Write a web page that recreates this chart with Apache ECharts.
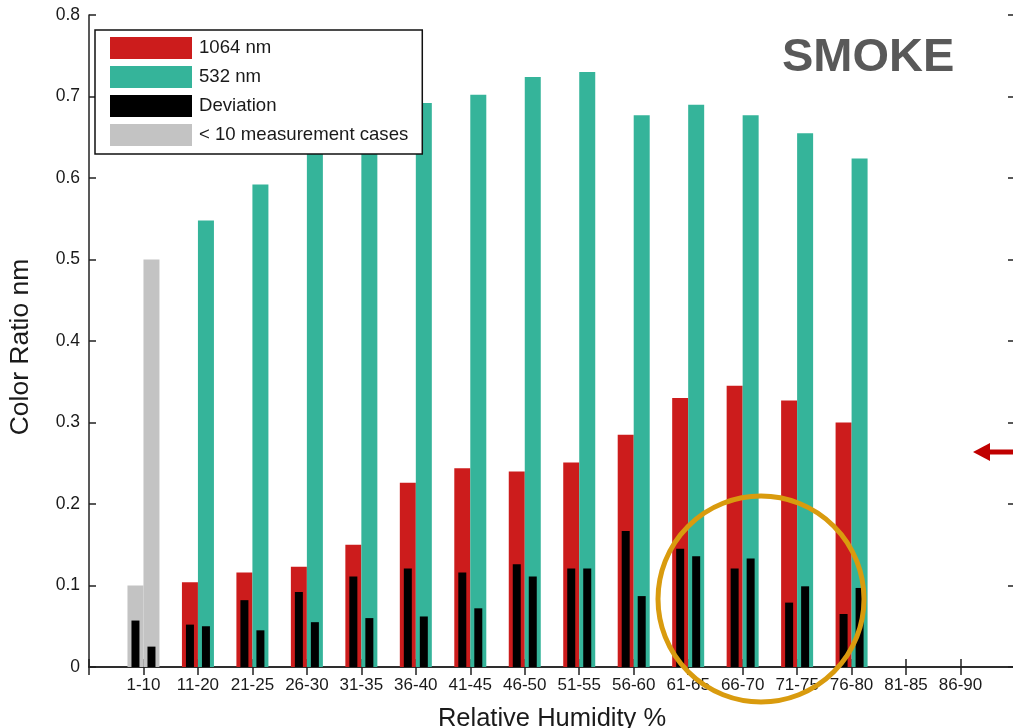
<!DOCTYPE html>
<html>
<head>
<meta charset="utf-8">
<script src="https://cdn.jsdelivr.net/npm/echarts@6.0.0/dist/echarts.min.js"></script>
<style>
  html, body { margin: 0; padding: 0; overflow: hidden; background: #fff; }
  #chart { width: 1016px; height: 728px; }
</style>
</head>
<body>
<div id="chart"></div>
<script>
// relative humidity bins
const rh = ['1-10', '11-20', '21-25', '26-30', '31-35', '36-40', '41-45', '46-50',
  '51-55', '56-60', '61-65', '66-70', '71-75', '76-80', '81-85', '86-90']

// colour ratio per bin (first bin has < 10 cases, drawn grey)
const ratio1064 = [null, 0.104, 0.116, 0.123, 0.150, 0.226, 0.244, 0.240, 0.251, 0.285, 0.330, 0.345, 0.327, 0.300, null, null]
const ratio532 = [null, 0.548, 0.592, 0.655, 0.675, 0.692, 0.702, 0.724, 0.730, 0.677, 0.690, 0.677, 0.655, 0.624, null, null]
const fewCases1064 = [0.10]
const fewCases532 = [0.50]

// deviation bars
const dev1064 = [0.057, 0.052, 0.082, 0.092, 0.111, 0.121, 0.116, 0.126, 0.121, 0.167, 0.145, 0.121, 0.079, 0.065, null, null]
const dev532 = [0.025, 0.050, 0.045, 0.055, 0.060, 0.062, 0.072, 0.111, 0.121, 0.087, 0.136, 0.133, 0.099, 0.097, null, null]

const yTicks = [0, 0.1, 0.2, 0.3, 0.4, 0.5, 0.6, 0.7, 0.8]

const RED = '#CC1C1C'
const TEAL = '#35B49A'
const GREY = '#C3C3C3'
const FONT = "'Liberation Sans', Arial, sans-serif"

// an empty slot at each end so the bins sit one step in from the frame
const cats = ['', ...rh, ' ']
const pad = arr => [null, ...arr]

const chart = echarts.init(document.getElementById('chart'))

const frameLine = { show: true, lineStyle: { color: '#222', width: 1.5 } }
const hiddenX = { type: 'category', data: cats, boundaryGap: false, show: false }

chart.setOption({
  animation: false,
  grid: { left: 89, right: 1, top: 15, bottom: 61, outerBoundsMode: 'none' },
  legend: {
    data: ['1064 nm', '532 nm', 'Deviation', '< 10 measurement cases'],
    orient: 'vertical',
    left: 95,
    top: 30,
    padding: [7, 14, 8, 15],
    itemWidth: 82,
    itemHeight: 22,
    itemGap: 7,
    icon: 'rect',
    backgroundColor: '#fff',
    borderColor: '#111',
    borderWidth: 1.5,
    textStyle: { fontSize: 18.6, color: '#1a1a1a', fontFamily: FONT, padding: [0, 0, 0, 2] }
  },
  xAxis: [
    {
      type: 'category',
      data: cats,
      boundaryGap: false,
      name: 'Relative Humidity %',
      nameLocation: 'middle',
      nameGap: 39,
      nameTextStyle: { fontSize: 25.5, color: '#1a1a1a', fontFamily: FONT },
      axisLine: frameLine,
      axisTick: { inside: true, length: 8, interval: 0, lineStyle: { color: '#222', width: 1.5 } },
      axisLabel: { interval: 0, fontSize: 17, color: '#1a1a1a', fontFamily: FONT, margin: 10 },
      splitLine: { show: false }
    },
    {
      type: 'category',
      data: cats,
      boundaryGap: false,
      position: 'top',
      axisLine: frameLine,
      axisTick: { inside: true, length: 8, interval: 0, lineStyle: { color: '#222', width: 1.5 } },
      axisLabel: { show: false },
      splitLine: { show: false }
    },
    hiddenX,
    hiddenX
  ],
  yAxis: [
    {
      type: 'value',
      min: yTicks[0],
      max: yTicks[yTicks.length - 1],
      interval: 0.1,
      name: 'Color Ratio nm',
      nameLocation: 'middle',
      nameRotate: 90,
      nameGap: 55,
      nameTextStyle: { fontSize: 26.5, color: '#1a1a1a', fontFamily: FONT, padding: [0, 12, 0, 0] },
      axisLine: frameLine,
      axisTick: { show: true, inside: true, length: 7, lineStyle: { color: '#222', width: 1.5 } },
      axisLabel: {
        fontSize: 17.5, color: '#1a1a1a', fontFamily: FONT, margin: 9,
        formatter: v => (v === 0 ? '0' : v.toFixed(1))
      },
      splitLine: { show: false }
    },
    {
      type: 'value',
      min: yTicks[0],
      max: yTicks[yTicks.length - 1],
      interval: 0.1,
      position: 'right',
      axisLine: frameLine,
      axisTick: { show: true, inside: true, length: 7, lineStyle: { color: '#222', width: 1.5 } },
      axisLabel: { show: false },
      splitLine: { show: false }
    }
  ],
  series: [
    { name: '< 10 measurement cases', type: 'bar', xAxisIndex: 2, barWidth: 16, barGap: 0, data: pad(fewCases1064), itemStyle: { color: GREY } },
    { name: '< 10 measurement cases', type: 'bar', xAxisIndex: 2, barWidth: 16, barGap: 0, data: pad(fewCases532), itemStyle: { color: GREY } },
    { name: '1064 nm', type: 'bar', xAxisIndex: 0, barWidth: 16, barGap: 0, data: pad(ratio1064), itemStyle: { color: RED } },
    { name: '532 nm', type: 'bar', xAxisIndex: 0, barWidth: 16, barGap: 0, data: pad(ratio532), itemStyle: { color: TEAL } },
    { name: 'Deviation', type: 'bar', xAxisIndex: 3, barWidth: 8, barGap: '100%', data: pad(dev1064), itemStyle: { color: '#000' } },
    { name: 'Deviation', type: 'bar', xAxisIndex: 3, barWidth: 8, barGap: '100%', data: pad(dev532), itemStyle: { color: '#000' } }
  ],
  graphic: [
    {
      type: 'text', left: 782, top: 35, z: 100,
      style: { text: 'SMOKE', fill: '#595959', font: "bold 47px 'Liberation Sans', Arial, sans-serif" }
    },
    // highlight circle
    {
      type: 'circle', z: 100,
      shape: { cx: 761, cy: 599, r: 103 },
      style: { fill: 'none', stroke: '#D99B0E', lineWidth: 5 }
    },
    // red arrow on the right edge
    {
      type: 'line', z: 100,
      shape: { x1: 986, y1: 452, x2: 1020, y2: 452 },
      style: { stroke: '#C00000', lineWidth: 5 }
    },
    {
      type: 'polygon', z: 100,
      shape: { points: [[973, 452], [990, 443], [990, 461]] },
      style: { fill: '#C00000' }
    }
  ]
})
</script>
</body>
</html>
